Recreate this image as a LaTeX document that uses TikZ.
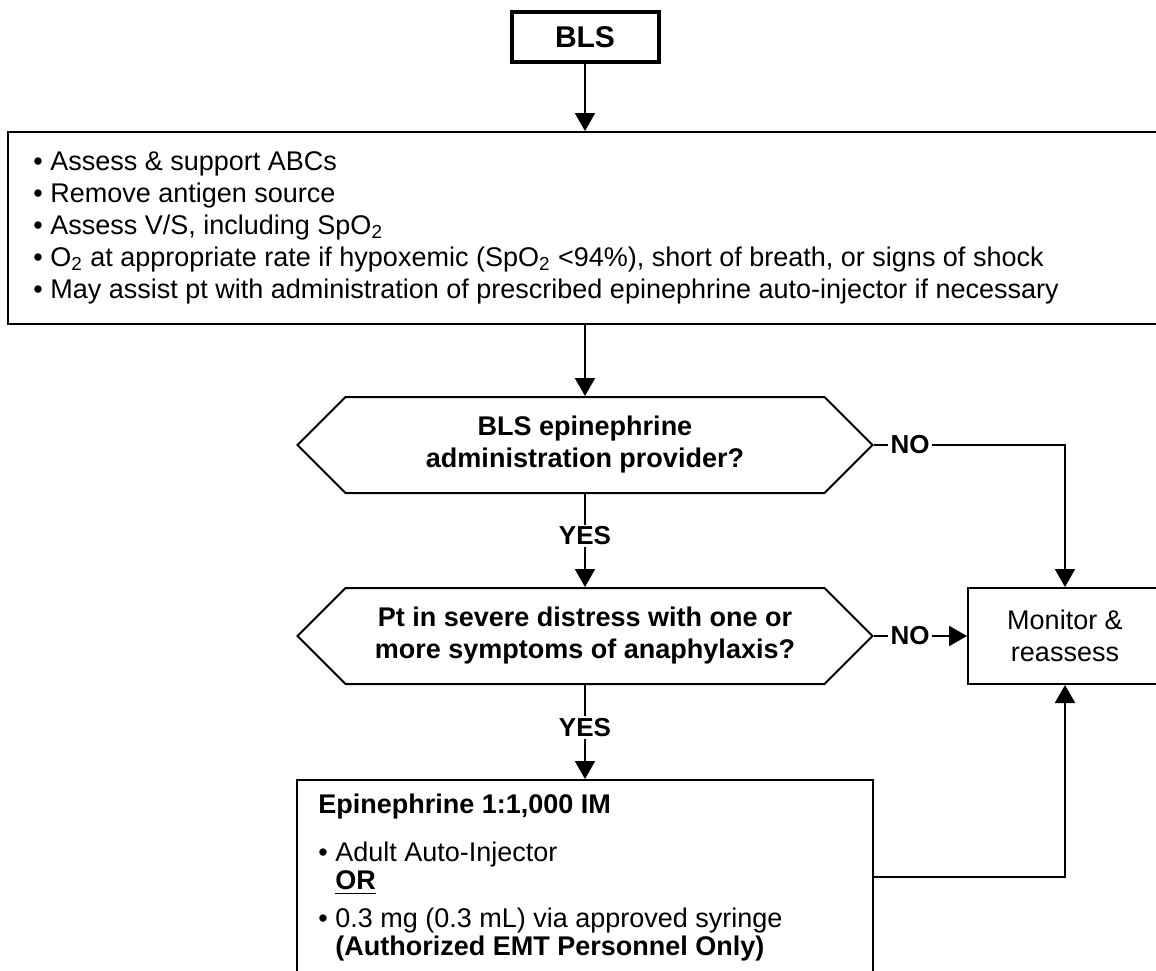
\documentclass[tikz,border=0pt]{standalone}
\usepackage{fontspec}
\setmainfont{Liberation Sans}
\usetikzlibrary{shapes.symbols, arrows.meta, positioning}
\tikzset{
frame/.style={draw, line width=1pt, rectangle, inner sep=0},
decision/.style={signal, signal to=west and east, signal pointer angle=90, draw, line width=1pt, minimum width=287.5pt, minimum height=48pt, align=center, font=\fontsize{13.5}{16}\selectfont\bfseries},
txt/.style={align=left, inner sep=0, font=\fontsize{13.5}{16}\selectfont},
lbl/.style={font=\fontsize{13}{15}\selectfont\bfseries, inner sep=1pt, fill=white},
arrow/.style={line width=1pt, -{Triangle[width=10pt, length=9pt]}},
line/.style={line width=1pt}}

\begin{document}
\begin{tikzpicture}[x=0.5pt, y=-0.5pt]
\useasboundingbox (0,0) rectangle (1156,970);
\clip (0,0) rectangle (1156,970);
% top of chart
\node[frame, line width=2pt, minimum width=73.5pt, minimum height=25pt, font=\fontsize{15}{18}\selectfont\bfseries] (bls) at (585,37) {BLS};
\node[frame, minimum width=581pt, minimum height=96pt] (assess) at (589,228) {};
\node[txt, anchor=west] (assesstxt) at (33,228) {\textbullet\ Assess \& support ABCs\\
\textbullet\ Remove antigen source\\
\textbullet\ Assess V/S, including SpO\textsubscript{2}\\
\textbullet\ O\textsubscript{2} at appropriate rate if hypoxemic (SpO\textsubscript{2} <94\%), short of breath, or signs of shock\\
\textbullet\ May assist pt with administration of prescribed epinephrine auto-injector if necessary};
% decisions
\node[decision] (q1) at (585,445) {BLS epinephrine\\administration provider?};
\node[decision] (q2) at (585,636) {Pt in severe distress with one or\\more symptoms of anaphylaxis?};
\node[frame, minimum width=97pt, minimum height=48pt, align=center, font=\fontsize{13.5}{16}\selectfont] (monitor) at (1065,636) {Monitor \&\\reassess};
\node[frame, minimum width=288pt, minimum height=97pt] (epi) at (585,877) {};
\node[txt, anchor=north west, font=\fontsize{13.5}{14}\selectfont] (epitxt) at (318,794) {\textbf{Epinephrine 1:1,000 IM}\\[10pt]
\textbullet\ Adult Auto-Injector\\
\phantom{\textbullet\ }\underline{\textbf{OR}}\\[5pt]
\textbullet\ 0.3 mg (0.3 mL) via approved syringe\\
\phantom{\textbullet\ }\textbf{(Authorized EMT Personnel Only)}};
\node[lbl] (no1) at (910,445) {NO};
\node[lbl] (no2) at (910,636) {NO};
% connectors
\draw[arrow] (bls) -- (bls |- assess.north);
\draw[arrow] (bls |- assess.south) -- (q1.north);
\draw[arrow] (q1.south) -- node[lbl, pos=0.45] {YES} (q2.north);
\draw[arrow] (q2.south) -- node[lbl, pos=0.45] {YES} (q2.south |- epi.north);
\draw[line] (q1.east) -- (no1);
\draw[arrow] (no1) -| (monitor.north);
\draw[line] (q2.east) -- (no2);
\draw[arrow] (no2) -- (monitor);
\draw[arrow] (epi.east) -| (monitor.south);
\end{tikzpicture}
\end{document}
